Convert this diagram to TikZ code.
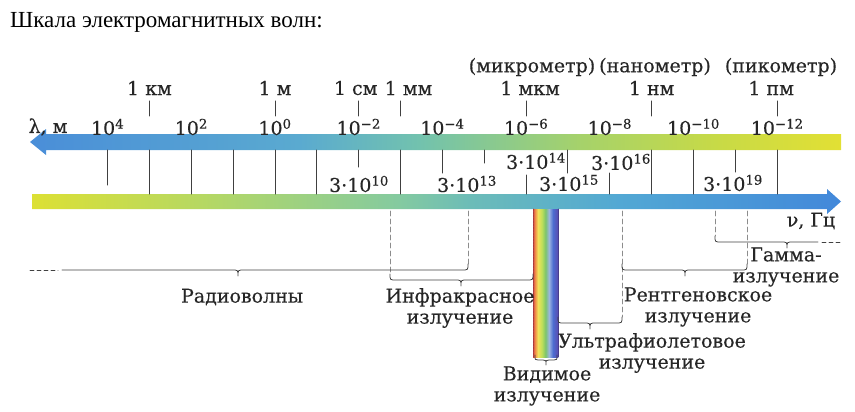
\documentclass[tikz,border=0pt]{standalone}
\usepackage{fontspec}
\setmainfont{DejaVu Serif}[FakeBold=0.4]
\newfontfamily\headfont{Liberation Serif}
\usetikzlibrary{
  arrows.meta,
  calc,
  positioning
}

\definecolor{lamA}{HTML}{4A8ED8}
\definecolor{lamB}{HTML}{5AAAD0}
\definecolor{lamC}{HTML}{72C2AE}
\definecolor{lamD}{HTML}{A6D26A}
\definecolor{lamE}{HTML}{C8DA46}
\definecolor{lamF}{HTML}{E2E034}
\definecolor{nuA}{HTML}{DCE034}
\definecolor{nuB}{HTML}{B6D862}
\definecolor{nuC}{HTML}{84CAA0}
\definecolor{nuD}{HTML}{6CBCB8}
\definecolor{nuE}{HTML}{52A8D4}
\definecolor{nuF}{HTML}{4288DA}
\definecolor{rbA}{HTML}{D44848}
\definecolor{rbB}{HTML}{EE8C48}
\definecolor{rbC}{HTML}{F2E25A}
\definecolor{rbD}{HTML}{BCDE5A}
\definecolor{rbE}{HTML}{7CC46C}
\definecolor{rbF}{HTML}{9CB4E0}
\definecolor{rbG}{HTML}{4C6CD0}
\definecolor{rbH}{HTML}{5A4CB0}
\definecolor{labeltext}{HTML}{262626}
\definecolor{scaleline}{HTML}{404040}

% colour runs, the path box sits between 25bp and 75bp
\pgfdeclarehorizontalshading{lambdashade}{100bp}{color(0bp)=(lamA); color(25bp)=(lamA); color(41.6bp)=(lamB); color(49bp)=(lamC); color(59bp)=(lamD); color(67.5bp)=(lamE); color(75bp)=(lamF); color(100bp)=(lamF)}
\pgfdeclarehorizontalshading{nushade}{100bp}{color(0bp)=(nuA); color(25bp)=(nuA); color(35.4bp)=(nuB); color(47.7bp)=(nuC); color(52.1bp)=(nuD); color(61.3bp)=(nuE); color(75bp)=(nuF); color(100bp)=(nuF)}
\pgfdeclarehorizontalshading{rainbowshade}{100bp}{color(0bp)=(rbA); color(25bp)=(rbA); color(29bp)=(rbB); color(35bp)=(rbC); color(43bp)=(rbD); color(50bp)=(rbE); color(57bp)=(rbF); color(65bp)=(rbG); color(75bp)=(rbH); color(100bp)=(rbH)}

\tikzset{
  >=stealth,
  every picture/.style={line cap=round, line join=round},
  tick/.style={draw=scaleline, line width=1pt},
  lbl/.style={font=\fontsize{19}{21}\selectfont, text=labeltext, inner sep=0pt, align=center},
  headlbl/.style={font=\headfont\fontsize{23}{25}\selectfont, inner sep=0pt},
  bracket/.style={draw=scaleline, line width=0.8pt},
  guide/.style={draw=black!45, line width=0.6pt, dash pattern=on 5pt off 3pt}
}

% range brace: left x, right x, tip x, level
\newcommand{\rangebrace}[4]{%
  \draw[bracket] (#1,#4-6) .. controls (#1,#4) .. (#1+6,#4) -- (#3-6,#4)
    .. controls (#3,#4) .. (#3,#4+6) .. controls (#3,#4) .. (#3+6,#4)
    -- (#2-6,#4) .. controls (#2,#4) .. (#2,#4-6);}

\begin{document}
\begin{tikzpicture}[x=1pt,y=-1pt]
  \def\xz{275}
  \def\dec{41.85}
  \useasboundingbox (0,0) rectangle (855,412);

  \node[headlbl, anchor=base west] (title) at (10,28) {Шкала электромагнитных волн:};

  % the two axes
  \shade[shading=lambdashade] (841,134) -- (46,134) -- (46,129) -- (30,142) -- (46,155) -- (46,150) -- (841,150) -- cycle;
  \shade[shading=nushade] (32,194) -- (827,194) -- (827,189) -- (841,201.5) -- (827,214) -- (827,209) -- (32,209) -- cycle;

  \node[lbl] (lamaxis) at (48,127) {λ, м};
  \node[lbl] (nuaxis) at (811,221) {ν, Гц};

  \foreach \e/\ya/\yb in {4/150/185, 3/150/194, 2/150/194, 1/150/194, 0/150/194,
      -1/150/194, -2/150/167, -3/150/194, -4/150/173, -5/150/163, -6/175/194,
      -7/150/173, -8/173/194, -9/150/194, -10/150/194, -11/150/172, -12/150/194}
    \draw[tick] ({\xz-\dec*(\e)},\ya) -- ({\xz-\dec*(\e)},\yb);

  \foreach \e/\t [count=\i] in {4/4, 2/2, 0/0, -2/−2, -4/−4, -6/−6, -8/−8, -10/−10, -12/−12}
    \node[lbl] (pow\i) at ({\xz-\dec*(\e)},127) {10\textsuperscript{\t}};

  \foreach \e/\u/\dx [count=\i] in {3/1 км/0, 0/1 м/0, -2/1 см/-3, -3/1 мм/8,
      -6/1 мкм/4, -9/1 нм/0, -12/1 пм/-6} {
    \draw[tick] ({\xz-\dec*(\e)},101) -- ({\xz-\dec*(\e)},116);
    \node[lbl] (unit\i) at ({\xz-\dec*(\e)+\dx},88) {\u};
  }
  \node[lbl] (micro) at (532,67) {(микрометр)};
  \node[lbl] (nano) at (655,67) {(нанометр)};
  \node[lbl] (pico) at (781,67) {(пикометр)};

  % frequencies
  \node[lbl] (nu10) at (359,184) {3·10\textsuperscript{10}};
  \node[lbl] (nu13) at (467,184) {3·10\textsuperscript{13}};
  \node[lbl] (nu14) at (536,161) {3·10\textsuperscript{14}};
  \node[lbl] (nu15) at (569,183) {3·10\textsuperscript{15}};
  \node[lbl] (nu16) at (621,162) {3·10\textsuperscript{16}};
  \node[lbl] (nu19) at (733,183) {3·10\textsuperscript{19}};

  % visible band
  \shade[shading=rainbowshade] (533,209) rectangle (558,357);
  \draw[rbA!80!black, line width=0.6pt, dash pattern=on 2pt off 1pt] (533,209) -- (533,357);
  \draw[rbH!80!black, line width=0.6pt] (558,209) -- (558,357);
  \draw[bracket] (535,355) .. controls (535,360) .. (538,360) -- (543,360)
    .. controls (546,360) .. (546,365) .. controls (546,360) .. (549,360)
    -- (554,360) .. controls (557,360) .. (557,355);

  % limits of the ranges
  \draw[guide] (390,211) -- (390,274);
  \draw[guide] (468,211) -- (468,264);
  \draw[guide] (622,211) -- (622,317);
  \draw[guide] (715,211) -- (715,236);
  \draw[guide] (747,211) -- (747,264);

  % ranges
  \draw[bracket, dash pattern=on 4pt off 3pt] (30,270) -- (58,270);
  \draw[bracket] (62,270) -- (232,270) .. controls (238,270) .. (238,276)
    .. controls (238,270) .. (244,270) -- (462,270) .. controls (468,270) .. (468,264);
  \rangebrace{390}{533}{461}{280}
  \rangebrace{558}{622}{590}{323}
  \rangebrace{622}{747}{685}{270}
  \draw[bracket] (715,236) .. controls (715,242) .. (721,242) -- (781,242)
    .. controls (787,242) .. (787,248) .. controls (787,242) .. (793,242) -- (818,242);
  \draw[bracket, dash pattern=on 4pt off 3pt] (822,242) -- (840,242);

  \node[lbl] (radio) at (242,297) {Радиоволны};
  \node[lbl] (infra) at (460,308) {Инфракрасное\\излучение};
  \node[lbl] (visible) at (547,386) {Видимое\\излучение};
  \node[lbl] (ultra) at (652,353) {Ультрафиолетовое\\излучение};
  \node[lbl] (xray) at (698,307) {Рентгеновское\\излучение};
  \node[lbl] (gamma) at (786,267) {Гамма-\\излучение};
\end{tikzpicture}
\end{document}
